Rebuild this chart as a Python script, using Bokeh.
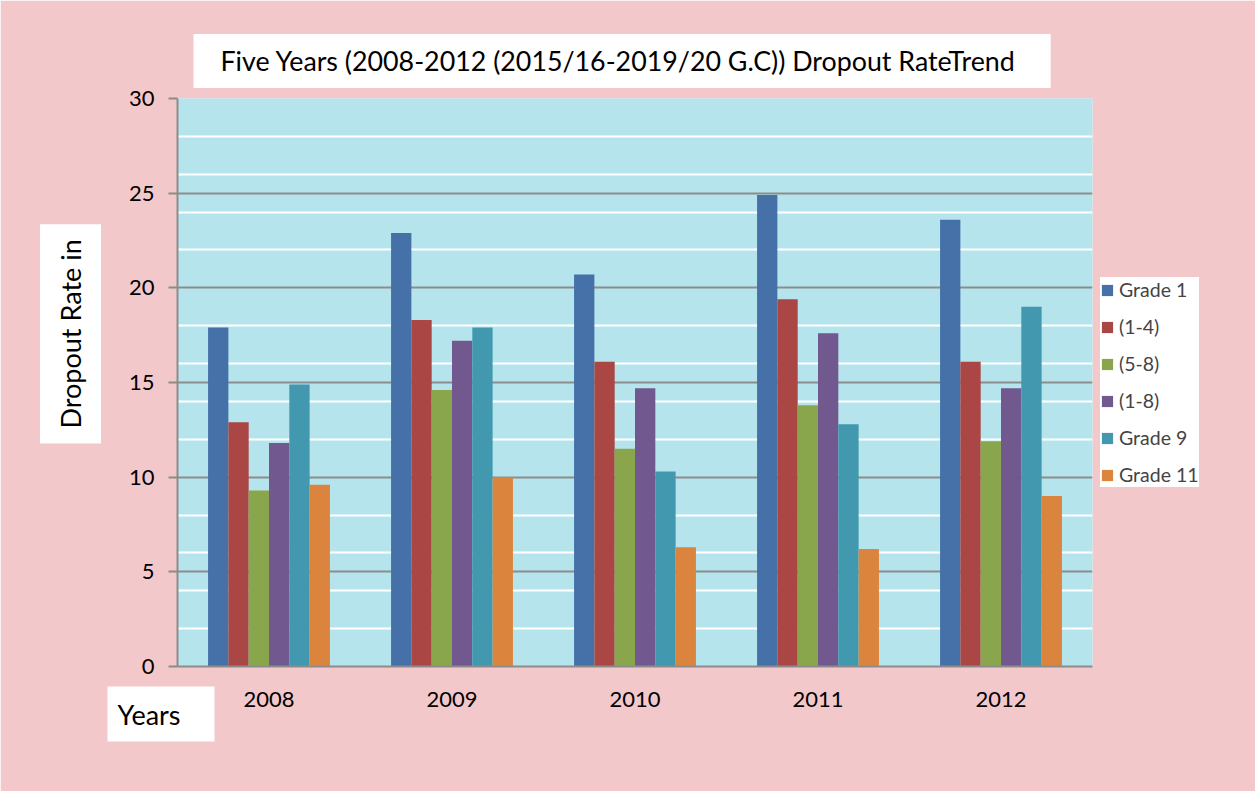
from bokeh.plotting import figure
from bokeh.models import (Range1d, FactorRange, Legend, LegendItem,
                          FixedTicker, Grid, ColumnDataSource, Title)
from bokeh.transform import dodge
from bokeh.embed import file_html
from bokeh.resources import INLINE

# ---------------- data ----------------
years = ["2008", "2009", "2010", "2011", "2012"]
series_names = ["Grade 1", "(1-4)", "(5-8)", "(1-8)", "Grade 9", "Grade 11"]
grade1 = [17.9, 22.9, 20.7, 24.9, 23.6]
g1_4 = [12.9, 18.3, 16.1, 19.4, 16.1]
g5_8 = [9.3, 14.6, 11.5, 13.8, 11.9]
g1_8 = [11.8, 17.2, 14.7, 17.6, 14.7]
grade9 = [14.9, 17.9, 10.3, 12.8, 19.0]
grade11 = [9.6, 10.0, 6.3, 6.2, 9.0]
y_ticks = [0, 5, 10, 15, 20, 25, 30]
minor_lines = [2, 4, 6, 8, 12, 14, 16, 18, 22, 24, 26, 28]
title_text = "Five Years (2008-2012 (2015/16-2019/20 G.C))  Dropout RateTrend"
y_label = "Dropout Rate in"
x_label = "Years"

colors = ["#4571A8", "#AA4643", "#8AA64D", "#71588F", "#4198AF", "#DB843D"]
FONT = "Lato"
PINK = "#f3c8cb"
BLUE = "#b6e4ed"


def pad(l, r, t, b):
    return dict(left=l, right=r, top=t, bottom=b)


src = ColumnDataSource(dict(years=years, s0=grade1, s1=g1_4, s2=g5_8,
                            s3=g1_8, s4=grade9, s5=grade11))

p = figure(frame_width=915, frame_height=568, x_range=FactorRange(*years),
           y_range=Range1d(0, 30), output_backend="svg", toolbar_location=None,
           min_border_left=177, min_border_right=163, min_border_top=98,
           min_border_bottom=125)
p.background_fill_color = BLUE
p.border_fill_color = PINK
p.outline_line_color = None

w = 0.111
renderers = []
for i in range(6):
    off = (i - 2.5) * w
    r = p.vbar(x=dodge("years", off, range=p.x_range), top="s%d" % i, width=w,
               source=src, fill_color=colors[i], line_color=None)
    renderers.append(r)

# grids
p.xgrid.visible = False
p.ygrid.ticker = FixedTicker(ticks=y_ticks)
p.ygrid.grid_line_color = "#8c8c8c"
p.ygrid.grid_line_width = 2
wg = Grid(dimension=1, ticker=FixedTicker(ticks=minor_lines),
          grid_line_color="white", grid_line_width=2)
p.add_layout(wg)

# axes
p.yaxis.ticker = FixedTicker(ticks=y_ticks)
p.yaxis.axis_line_color = "#8c8c8c"
p.yaxis.axis_line_width = 2
p.yaxis.major_tick_line_color = "#8c8c8c"
p.yaxis.major_tick_line_width = 2
p.yaxis.major_tick_out = 9
p.yaxis.major_tick_in = 0
p.yaxis.minor_tick_line_color = None
p.yaxis.major_label_text_font = FONT
p.yaxis.major_label_text_font_size = "22px"
p.yaxis.major_label_text_color = "black"
p.yaxis.major_label_standoff = 14

p.xaxis.axis_line_color = "#8c8c8c"
p.xaxis.axis_line_width = 2
p.xaxis.major_tick_line_color = None
p.xaxis.major_tick_out = 0
p.xaxis.major_tick_in = 0
p.xaxis.major_label_text_font = FONT
p.xaxis.major_label_text_font_size = "22px"
p.xaxis.major_label_text_color = "black"
p.xaxis.major_label_standoff = 25

# title (above)
p.title = Title(text=title_text, align="left", offset=16, standoff=21,
                text_font=FONT, text_font_size="26.8px", text_font_style="normal",
                text_color="black", background_fill_color="white",
                padding=pad(27, 28, 11, 11))

# y label (left)
p.add_layout(Title(text=y_label, align="left", offset=223, standoff=49,
                   text_font=FONT, text_font_size="27px", text_font_style="normal",
                   text_color="black", background_fill_color="white",
                   padding=pad(15, 15, 14, 14)), "left")

# "Years" label (below)
try:
    yrs = Title(text=x_label, align="left", offset=-70, standoff=-50,
                text_font=FONT, text_font_size="27px", text_font_style="normal",
                text_color="black", background_fill_color="white",
                padding=pad(10, 34, 11, 11))
except Exception:
    yrs = Title(text=x_label, align="left", offset=-70, standoff=0,
                text_font=FONT, text_font_size="27px", text_font_style="normal",
                text_color="black", background_fill_color="white",
                padding=pad(10, 34, 11, 11))
p.add_layout(yrs, "below")

legend = Legend(items=[LegendItem(label=series_names[i], renderers=[renderers[i]])
                       for i in range(6)],
                location="left", orientation="vertical",
                label_text_font=FONT, label_text_font_size="19.5px",
                glyph_width=14, glyph_height=14, label_standoff=5,
                label_height=25, spacing=12, padding=13, margin=8,
                background_fill_color="white", background_fill_alpha=1,
                border_line_color=None)
p.add_layout(legend, "right")

open("out.html", "w").write(file_html(p, INLINE))
